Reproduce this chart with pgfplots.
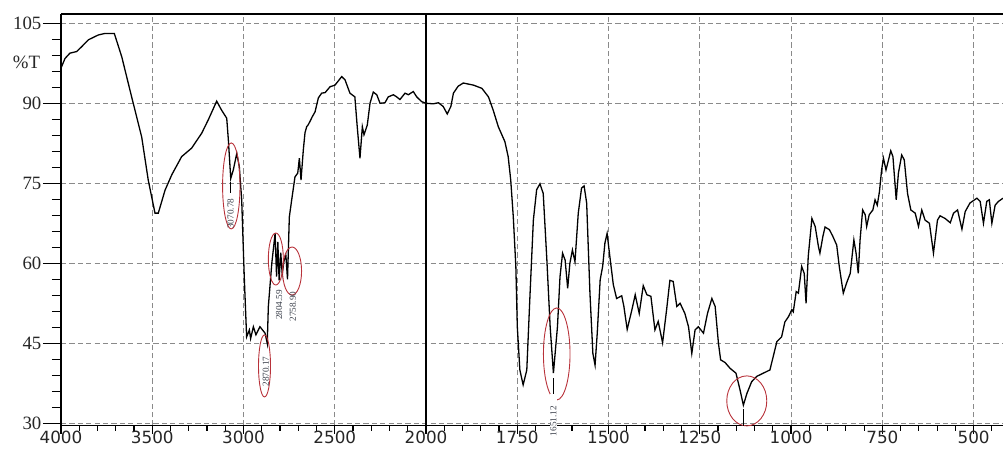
\documentclass[border=0pt]{standalone}
\usepackage{fontspec}
\setmainfont{Liberation Serif}
\newfontfamily\tickfont{DejaVu Sans}
\usepackage{pgfplots}
\pgfplotsset{compat=1.18}
\definecolor{gridgray}{HTML}{8A8A8A}
\definecolor{markred}{HTML}{B8323A}
\definecolor{labelgray}{HTML}{3A3F4A}
\begin{document}
\begin{tikzpicture}
\begin{axis}[
  name=ax,
  scale only axis,
  width=471pt, height=205.85pt,
  % wavenumber axis: 500 cm^-1 per division above 2000, 250 cm^-1 per division below
  x coord trafo/.code={\pgfmathparse{ifthenelse(#1>=2000,4000-#1,6000-2*#1)}},
  xmin=4000, xmax=419.5,
  ymin=29.55, ymax=106.74,
  axis x line*=box, axis y line*=left,
  xtick pos=bottom, ytick pos=left,
  xtick={4000,3500,3000,2500,2000,1750,1500,1250,1000,750,500},
  xticklabels={4000,3500,3000,2500,2000,1750,1500,1250,1000,750,500},
  minor xtick={3900,3800,3700,3600,3400,3300,3200,3100,2900,2800,2700,2600,2400,2300,2200,2100,
               1950,1900,1850,1800,1700,1650,1600,1550,1450,1400,1350,1300,1200,1150,1100,1050,
               950,900,850,800,700,650,600,550,450},
  ytick={30,45,60,75,90,105},
  yticklabels={},
  minor y tick num=4,
  tick align=outside,
  major tick length=4pt, minor tick length=2.5pt,
  tick style={black, line width=0.6pt},
  axis line style={black, line width=0.7pt},
  grid=major,
  major grid style={gridgray, line width=0.5pt, dash pattern=on 2.6pt off 1.6pt},
  xticklabel style={font=\tickfont\fontsize{8.4}{10}\selectfont, inner sep=0pt, yshift=1.6pt, text=black!85},
  clip=false,
]
% transmittance spectrum
\addplot[black, line width=0.65pt] coordinates {
(4000,96.6) (3978,98.4) (3951,99.4) (3914,99.7) (3887,100.6) (3850,101.9) (3796,102.8)
(3759,103.1) (3708,103.1) (3667,98.7) (3613,91.2) (3558,83.7) (3522,75.6) (3485,69.4)
(3467,69.4) (3430,73.7) (3393,76.6) (3339,80.0) (3284,81.6) (3229,84.4) (3193,86.9)
(3147,90.4) (3120,88.7) (3092,87.2) (3083,83.1) (3070,75.9) (3056,77.5) (3037,80.6)
(3023,78.1) (3010,71.9) (2996,57.5) (2983,46.2) (2968,47.5) (2961,45.9) (2946,48.1)
(2932,46.6) (2910,48.1) (2882,46.9) (2870,45.0) (2864,51.9) (2845,60.0) (2827,65.6)
(2819,57.5) (2812,64.0) (2805,56.8) (2796,62.0) (2788,58.0) (2778,60.5) (2768,61.5)
(2759,57.0) (2749,68.7) (2736,71.9) (2718,76.2) (2703,76.9) (2694,79.7) (2685,75.6)
(2672,81.4) (2663,84.5) (2654,85.6) (2645,86.0) (2636,86.6) (2623,87.5) (2608,88.4)
(2590,91.0) (2572,91.9) (2553,92.0) (2526,93.1) (2499,93.4) (2462,95.0) (2444,94.4)
(2417,91.9) (2390,91.2) (2377,85.6) (2362,79.7) (2349,85.6) (2340,84.1) (2322,85.9)
(2307,90.0) (2289,92.1) (2270,91.6) (2252,90.0) (2225,90.1) (2207,91.2) (2179,91.6)
(2161,91.2) (2143,90.7) (2115,91.9) (2097,91.6) (2070,92.2) (2051,91.2) (2024,90.3)
(2000,90.0)
(1980,89.9) (1966,90.1) (1953,89.4) (1942,88.0) (1932,89.4) (1925,91.9) (1912,93.2)
(1898,93.8) (1870,93.4) (1847,92.8) (1829,91.2) (1816,88.7) (1802,85.6) (1784,82.8)
(1775,80.0) (1768,75.6) (1761,68.7) (1754,59.4) (1750,48.1) (1743,40.0) (1734,37.2)
(1724,40.0) (1715,54.4) (1706,68.1) (1697,73.8) (1688,74.9) (1679,73.1) (1669,60.6)
(1660,48.1) (1651.1,39.4) (1640,48.1) (1633,57.5) (1626,61.9) (1619,60.6) (1612,55.3)
(1606,60.0) (1599,62.5) (1592,60.3) (1583,69.4) (1574,74.1) (1567,74.5) (1560,71.3)
(1551,54.4) (1543,43.1) (1537,40.9) (1531,46.9) (1523,56.9) (1516,59.5) (1510,63.8)
(1504,65.6) (1496,61.0) (1487,56.0) (1478,53.4) (1464,53.9) (1458,51.9) (1449,47.6)
(1436,51.3) (1427,54.1) (1416,50.6) (1405,55.8) (1395,54.1) (1384,53.8) (1373,47.5)
(1364,49.1) (1352,45.1) (1341,51.3) (1332,56.8) (1323,56.6) (1313,51.9) (1304,52.5)
(1291,50.6) (1281,48.1) (1272,43.1) (1263,47.5) (1254,48.1) (1240,46.9) (1229,50.6)
(1217,53.4) (1208,51.9) (1199,45.0) (1193,41.9) (1181,41.4) (1167,40.3) (1151,39.4)
(1140,36.3) (1130.7,33.4) (1121,35.6) (1108,37.8) (1094,38.8) (1076,39.4) (1058,40.0)
(1049,42.5) (1039,45.3) (1026,46.2) (1017,49.0) (1007,50.0) (998,51.3) (994,50.9)
(986,54.7) (980,54.4) (971,59.4) (964,58.1) (959,52.5) (953,61.3) (943,68.4)
(934,66.9) (925,63.1) (921,61.9) (913,65.0) (907,66.8) (895,66.3) (886,65.1)
(875,63.4) (868,59.4) (857,54.4) (848,56.3) (838,58.1) (828,64.4) (822,61.9)
(816,58.1) (811,64.4) (804,70.0) (797,69.1) (793,66.9) (786,69.1) (776,70.0)
(770,71.9) (764,70.9) (758,73.4) (752,77.5) (747,79.7) (740,77.5) (733,79.4)
(727,81.1) (721,80.0) (712,71.9) (706,76.9) (697,80.3) (690,79.4) (681,73.1)
(672,70.0) (660,69.4) (651,66.9) (642,70.0) (633,68.1) (621,67.5) (610,61.9)
(599,68.1) (592,68.9) (578,68.4) (564,67.6) (555,69.4) (544,70.0) (532,66.4)
(523,69.7) (510,71.3) (491,72.2) (482,71.6) (473,67.5) (464,71.6) (457,71.9)
(450,67.5) (441,70.9) (432,71.6) (419.5,72.2)
};
% divider where the wavenumber scale changes
\draw[black, line width=0.75pt] (axis cs:2000,29.55) -- (axis cs:2000,106.74);
% peak annotations
\draw[markred, line width=0.45pt] (axis cs:3067,74.5) ellipse [x radius=4.35pt, y radius=21.5pt];
\draw[markred, line width=0.45pt] (axis cs:2823,60.8) ellipse [x radius=3.75pt, y radius=13pt];
\draw[markred, line width=0.45pt] (axis cs:2734,58.55) ellipse [x radius=4.75pt, y radius=12pt];
\draw[markred, line width=0.45pt] (axis cs:2885,40.75) ellipse [x radius=3pt, y radius=15.5pt];
\draw[markred, line width=0.45pt] (axis cs:1642,43.0) ellipse [x radius=6.65pt, y radius=23pt];
\draw[markred, line width=0.45pt] (axis cs:1121.4,34.2) ellipse [x radius=10pt, y radius=12.5pt];
\draw[black, line width=0.6pt] (axis cs:3070,75.3) -- (axis cs:3070,73.1);
\draw[black, line width=0.6pt] (axis cs:1651.1,38.4) -- (axis cs:1651.1,35.2);
\draw[black, line width=0.6pt] (axis cs:1130.7,32.6) -- (axis cs:1130.7,29.55);
\begin{scope}[every node/.style={rotate=90, font=\fontsize{4.6}{5}\selectfont, text=labelgray, inner sep=0.3pt}]
\node at (axis cs:3070,69.3) {3070.78};
\node at (axis cs:2804.59,52.2) {2804.59};
\node at (axis cs:2729,51.9) {2758.90};
\node at (axis cs:2877,39.7) {2870.17};
\node[fill=white, inner xsep=6pt] at (axis cs:1651.1,30.4) {1651.12};
\end{scope}
\node[anchor=east, inner sep=0pt, font=\fontsize{9.4}{10}\selectfont, text=black!85] at (axis cs:4000,97.6) [xshift=-10.3pt] {\%T};
\end{axis}
% transmittance scale with its longer ticks
\begin{axis}[
  scale only axis,
  width=471pt, height=205.85pt,
  at={(ax.south west)}, anchor=south west,
  xmin=0, xmax=1, ymin=29.55, ymax=106.74,
  axis x line=none, axis y line*=left,
  ytick={30,45,60,75,90,105},
  yticklabels={30,45,60,75,90,105},
  minor y tick num=4,
  tick align=outside,
  major tick length=9pt, minor tick length=4.5pt,
  tick style={black, line width=0.6pt},
  axis line style={black, line width=0.7pt},
  yticklabel style={font=\fontsize{9.4}{10}\selectfont, inner sep=0pt, xshift=-0.6pt, text=black!85},
]
\end{axis}
\pgfresetboundingbox
\path[use as bounding box] ([xshift=-30.5pt,yshift=-14.15pt]ax.south west) rectangle ([yshift=7pt]ax.north east);
\end{tikzpicture}
\end{document}
